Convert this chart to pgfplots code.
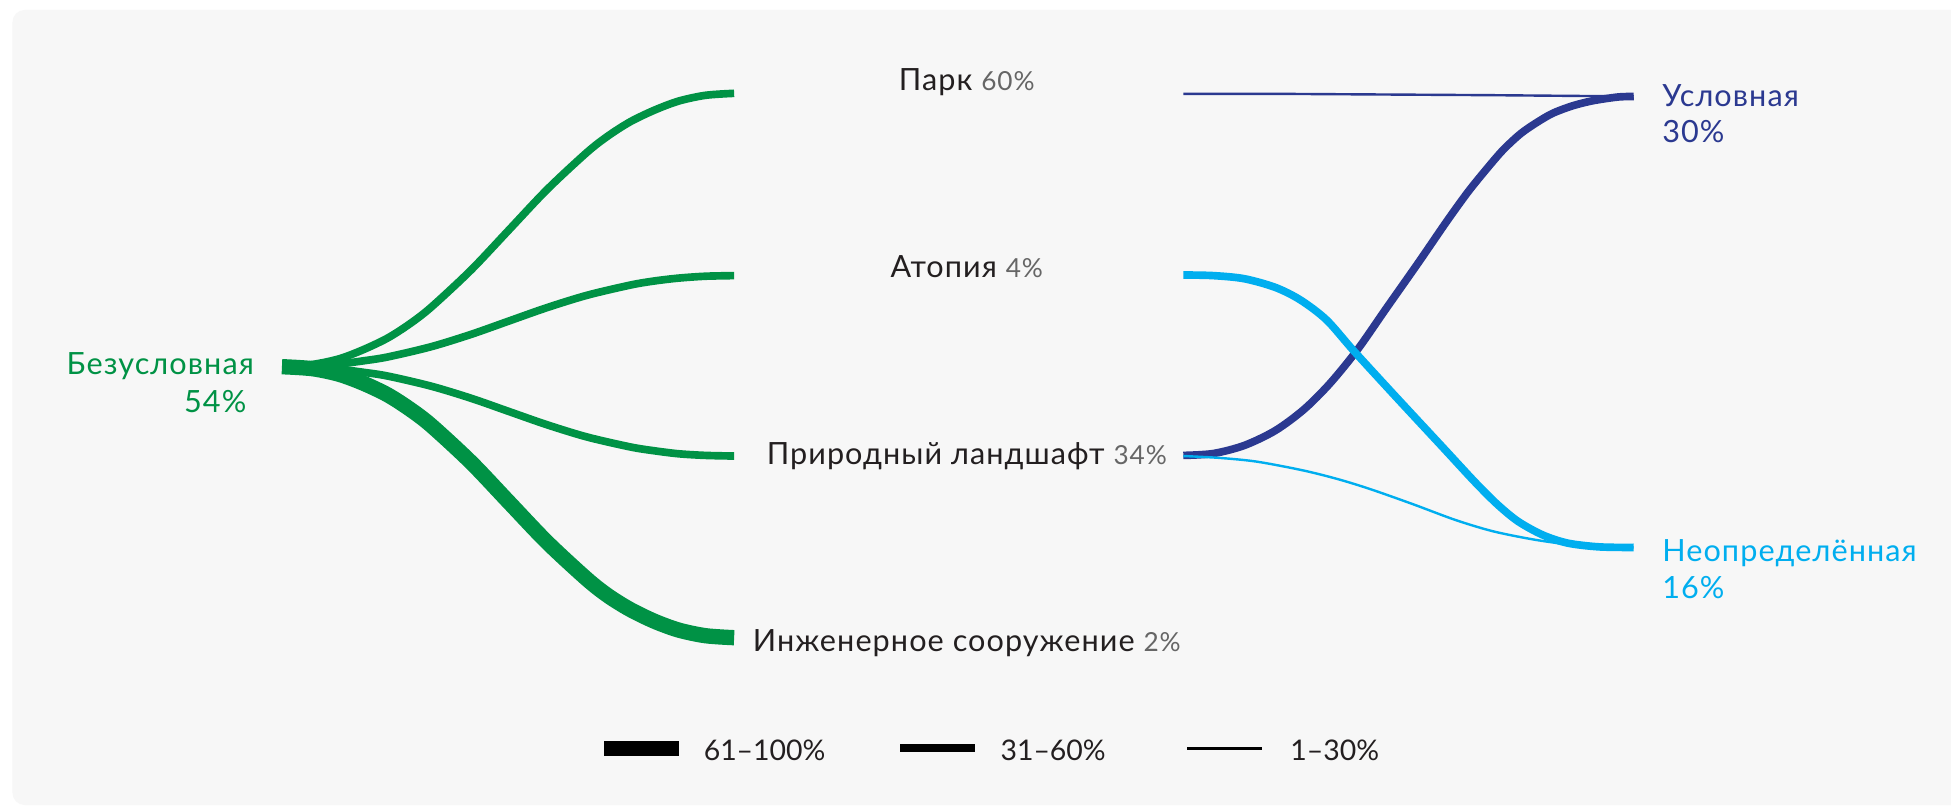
\documentclass[border=0pt]{standalone}
\usepackage{pgfplots}
\pgfplotsset{compat=1.18}
\usepackage{fontspec}
\setmainfont{Lato}
\definecolor{cgreen}{HTML}{009245}
\definecolor{cnavy}{HTML}{2B3990}
\definecolor{ccyan}{HTML}{00AEEF}
\definecolor{ctext}{HTML}{231F20}
\definecolor{cgrey}{HTML}{666666}
\definecolor{cbg}{HTML}{F7F7F7}
\newcommand{\lblfont}{\fontsize{14}{16}\selectfont\addfontfeatures{LetterSpace=3.5}}
\newcommand{\pctfont}{\fontsize{12}{14}\selectfont\addfontfeatures{LetterSpace=3.5}}
\newcommand{\legfont}{\fontsize{13}{15}\selectfont}
\tikzset{lbl/.style={inner sep=0pt, outer sep=0pt}}
\begin{document}
\begin{tikzpicture}
\begin{axis}[
  width=31.36cm, height=12.98cm, scale only axis,
  xmin=0, xmax=1568, ymin=0, ymax=649, y dir=reverse,
  hide axis, clip=false,
  every axis plot/.append style={no markers},
]
\fill[white] (axis cs:0,0) rectangle (axis cs:1568,649);
\fill[cbg, rounded corners=2mm] (axis cs:10,8) rectangle (axis cs:1600,647);

% green flows
\addplot[cgreen, line width=3.5pt, smooth, tension=0.5] coordinates {(228,294.5)(251,292.9)(272.5,288.4)(292,281)(311.5,271.7)(329,260.5)(346.3,247.1)(378.4,217.2)(409,184.8)(439.7,152.3)(471.8,122.4)(489,109)(506.6,97.8)(526,88.5)(545.5,81.2)(567,76.6)(590,75)};
\addplot[cgreen, line width=3.5pt, smooth, tension=0.5] coordinates {(228,294.5)(251,294)(272.5,292.5)(292,290)(311.5,286.9)(346.3,278.7)(378.4,268.8)(409,258)(439.7,247.2)(471.8,237.3)(506.6,229.1)(526,225.8)(545.5,223.5)(567,222)(590,221.5)};
\addplot[cgreen, line width=3.5pt, smooth, tension=0.5] coordinates {(228,294.7)(251,295.2)(272.5,296.7)(292,299.2)(311.5,302.2)(346.3,310.3)(378.4,320)(409,330.7)(439.7,341.4)(471.8,351.2)(506.6,359.2)(526,362.3)(545.5,364.7)(567,366)(590,366.5)};
\addplot[cgreen, line width=7pt, smooth, tension=0.5] coordinates {(226.6,294.7)(251,296.3)(272.5,300.8)(292,308)(311.5,317.3)(329,328.5)(346.3,341.7)(378.4,371.4)(409,403.6)(439.7,435.8)(471.8,465.5)(489,479)(506.6,489.9)(526,499.3)(545.5,506.4)(567,510.9)(590,512.5)};

% right flows
\addplot[cnavy, line width=1.1pt] coordinates {(951,75.5)(1040,75.5)(1200,76.5)(1313,77.5)};
\addplot[cnavy, line width=3.5pt, smooth, tension=0.5] coordinates {(951,366)(975,364.5)(1000,358)(1025,346)(1048,329)(1069,308)(1091,281)(1114,248)(1140,211)(1163,177.5)(1180,154)(1195,135.5)(1208,120.5)(1222,107.5)(1235,98.5)(1248,91)(1264,85)(1280,81)(1300,78)(1313,77.5)};
\addplot[ccyan, line width=3.5pt, smooth, tension=0.5] coordinates {(951,221)(975,221.5)(1000,224)(1025,231)(1045,241)(1066,257)(1088,282)(1121,318)(1160,360)(1185,387)(1203,405)(1220,419)(1240,430)(1260,436.5)(1285,439.5)(1313,440)};
\addplot[ccyan, line width=1.1pt, smooth, tension=0.5] coordinates {(951,366.5)(980,368)(1010,371)(1047,378)(1075,385)(1101,393)(1135,405)(1170,418)(1200,427)(1232,433.5)(1260,437.5)(1285,439.5)(1313,440)};

% legend bars
\addplot[black, line width=7pt] coordinates {(485.8,601.4)(545.9,601.4)};
\addplot[black, line width=3.6pt] coordinates {(723.5,601.4)(783.4,601.4)};
\addplot[black, line width=1.1pt] coordinates {(954,601.4)(1014,601.4)};

% labels
\node[lbl, anchor=base east, text=cgreen, font=\lblfont] at (axis cs:204,300.6) {Безусловная};
\node[lbl, anchor=base east, text=cgreen, font=\lblfont] at (axis cs:198,331.7) {54\%};

\node[lbl, anchor=base, text=ctext, font=\lblfont] at (axis cs:777,72.9) {Парк {\pctfont\color{cgrey}60\%}};
\node[lbl, anchor=base, text=ctext, font=\lblfont] at (axis cs:777,223) {Атопия {\pctfont\color{cgrey}4\%}};
\node[lbl, anchor=base, text=ctext, font=\lblfont] at (axis cs:777,373.7) {Природный ландшафт {\pctfont\color{cgrey}34\%}};
\node[lbl, anchor=base, text=ctext, font=\lblfont] at (axis cs:777,523.7) {Инженерное сооружение {\pctfont\color{cgrey}2\%}};

\node[lbl, anchor=base west, text=cnavy, font=\lblfont] at (axis cs:1336,85.5) {Условная};
\node[lbl, anchor=base west, text=cnavy, font=\lblfont] at (axis cs:1336,114.8) {30\%};
\node[lbl, anchor=base west, text=ccyan, font=\lblfont] at (axis cs:1336,451.5) {Неопределённая};
\node[lbl, anchor=base west, text=ccyan, font=\lblfont] at (axis cs:1336,481) {16\%};

\node[lbl, anchor=base west, text=ctext, font=\legfont] at (axis cs:565.6,611.3) {61–100\%};
\node[lbl, anchor=base west, text=ctext, font=\legfont] at (axis cs:804.1,611.3) {31–60\%};
\node[lbl, anchor=base west, text=ctext, font=\legfont] at (axis cs:1037,611.3) {1–30\%};
\end{axis}
\pgfresetboundingbox
\path[use as bounding box] (current axis.south west) rectangle (current axis.north east);
\end{tikzpicture}
\end{document}
